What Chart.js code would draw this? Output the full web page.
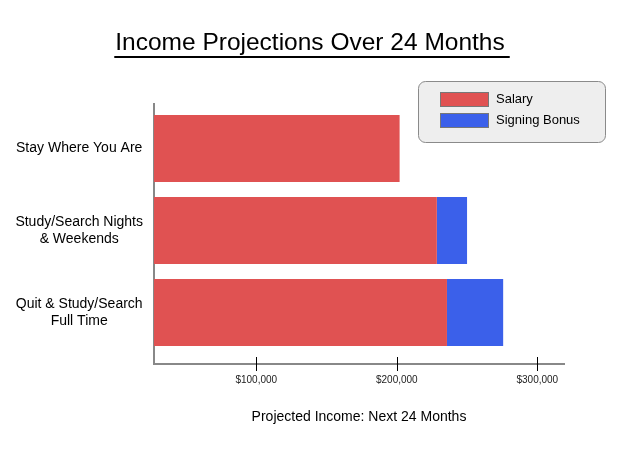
<!DOCTYPE html>
<html>
<head>
<meta charset="utf-8">
<script src="https://cdn.jsdelivr.net/npm/chart.js@4/dist/chart.umd.min.js"></script>
<style>
  html, body { margin: 0; padding: 0; background: #fff; }
  canvas { display: block; }
</style>
</head>
<body>
<canvas id="income" width="625" height="452"></canvas>
<script>
// data
const categories = [
  ['Stay Where You Are'],
  ['Study/Search Nights', '& Weekends'],
  ['Quit & Study/Search', 'Full Time']
];
const salary = [202000, 228500, 235700];
const signingBonus = [0, 21500, 40000];
const xTicks = [100000, 200000, 300000];
const chartTitle = 'Income Projections Over 24 Months';

const FONT = "'Liberation Sans', Arial, Helvetica, sans-serif";
const RED = '#e05252';
const BLUE = '#3b60ea';

// title with underline, ticks crossing the x axis line, boxed legend
const extras = {
  id: 'extras',
  afterDraw(chart) {
    const ctx = chart.ctx;
    ctx.save();
    ctx.font = `24.5px ${FONT}`;
    ctx.fillStyle = '#000';
    ctx.textAlign = 'center';
    ctx.textBaseline = 'alphabetic';
    const w = ctx.measureText(chartTitle).width;
    const cx = 310;
    ctx.fillText(chartTitle, cx, 50);
    ctx.fillRect(cx - w / 2 - 1, 56, w + 6, 2);

    // x ticks
    const xs = chart.scales.x;
    const bottom = chart.chartArea.bottom;
    ctx.strokeStyle = '#000';
    ctx.lineWidth = 1;
    xs.ticks.forEach(t => {
      const px = Math.round(xs.getPixelForValue(t.value)) + 0.5;
      ctx.beginPath();
      ctx.moveTo(px, bottom - 7);
      ctx.lineTo(px, bottom + 7);
      ctx.stroke();
    });

    // legend box
    ctx.textAlign = 'left';
    ctx.beginPath();
    ctx.roundRect(418.5, 81.5, 187, 61, 7);
    ctx.fillStyle = '#eeeeee';
    ctx.fill();
    ctx.strokeStyle = '#8a8a8a';
    ctx.stroke();
    chart.data.datasets.forEach((ds, i) => {
      const y = 92.5 + i * 21;
      ctx.fillStyle = ds.backgroundColor;
      ctx.fillRect(440.5, y, 48, 14);
      ctx.strokeStyle = '#777';
      ctx.strokeRect(440.5, y, 48, 14);
      ctx.fillStyle = '#000';
      ctx.font = `13px ${FONT}`;
      ctx.textBaseline = 'middle';
      ctx.fillText(ds.label, 496, y + 7);
    });
    ctx.restore();
  }
};

new Chart(document.getElementById('income'), {
  type: 'bar',
  data: {
    datasets: [
      {
        label: 'Salary',
        data: salary.map((v, i) => ({ x: v, y: i })),
        backgroundColor: RED
      },
      {
        label: 'Signing Bonus',
        data: signingBonus.map((v, i) => ({ x: v, y: i })),
        backgroundColor: BLUE
      }
    ]
  },
  options: {
    indexAxis: 'y',
    responsive: false,
    animation: false,
    barPercentage: 0.817,
    categoryPercentage: 1,
    layout: { padding: { left: 0, right: 61, top: 104, bottom: 18 } },
    plugins: {
      legend: { display: false },
      tooltip: { enabled: false },
      title: { display: false }
    },
    scales: {
      x: {
        type: 'linear',
        stacked: true,
        min: 27200,
        max: 319000,
        afterBuildTicks: s => { s.ticks = xTicks.map(v => ({ value: v })); },
        afterFit: s => { s.height = 70; },
        grid: { drawOnChartArea: false, drawTicks: false },
        border: { color: '#888', width: 2 },
        ticks: {
          padding: 10,
          maxRotation: 0,
          color: '#222',
          font: { family: FONT, size: 10 },
          callback: v => '$' + v.toLocaleString('en-US')
        },
        title: {
          display: true,
          text: 'Projected Income: Next 24 Months',
          color: '#000',
          font: { family: FONT, size: 14 },
          padding: { top: 0, bottom: 8 }
        }
      },
      y: {
        type: 'linear',
        stacked: true,
        offset: false,
        reverse: true,
        min: -0.543,
        max: 2.628,
        afterBuildTicks: s => { s.ticks = categories.map((c, i) => ({ value: i })); },
        afterFit: s => { s.width = 154; },
        grid: { drawOnChartArea: false, drawTicks: false },
        border: { color: '#888', width: 2 },
        ticks: {
          padding: 11,
          crossAlign: 'center',
          color: '#000',
          font: { family: FONT, size: 14 },
          callback: v => categories[v]
        }
      }
    }
  },
  plugins: [extras]
});
</script>
</body>
</html>
